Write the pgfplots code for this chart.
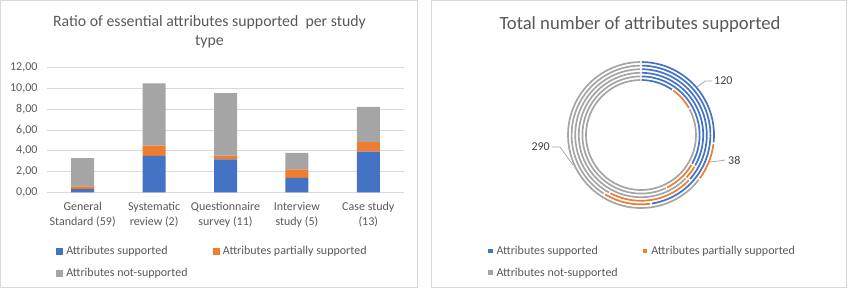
\documentclass[border=0pt]{standalone}
\usepackage{pgfplots}
\pgfplotsset{compat=1.18}
\usepackage{pgfplotstable}
\usepackage{fontspec}
\setmainfont{Carlito}
\definecolor{cBlue}{HTML}{4472C4}
\definecolor{cOrange}{HTML}{ED7D31}
\definecolor{cGray}{HTML}{A5A5A5}
\definecolor{cGrid}{HTML}{D9D9D9}
\definecolor{cText}{HTML}{595959}
\definecolor{cLabel}{HTML}{404040}
\definecolor{cLeader}{HTML}{A6A6A6}
\newcommand\lab{\fontsize{12bp}{14.9bp}\selectfont}
\def\gap{0.7}

% ratio per study type (left chart)
\pgfplotstableread{
x s p n
0 0.32 0.24 2.73
1 3.50 1.00 6.00
2 3.18 0.36 6.00
3 1.40 0.80 1.60
4 3.92 0.92 3.38
}\ratios

% doughnut rings, inner to outer (last ring = totals)
\pgfplotstableread{
ring s p n
0 0.32 0.24 2.73
1 3.50 1.00 6.00
2 3.18 0.36 6.00
3 1.40 0.80 1.60
4 3.92 0.92 3.38
5 120 38 290
}\rings

\begin{document}
\begin{tikzpicture}[x=1bp,y=1bp]
\draw[cGrid, line width=0.75bp] (0.5,2.7) rectangle (417.3,289.5);
\draw[cGrid, line width=0.75bp] (431.7,2.7) rectangle (846.7,289.5);

\foreach \i in {0,...,5}{%
  \pgfplotstablegetelem{\i}{s}\of\rings \pgfmathsetmacro\vs{\pgfplotsretval}%
  \pgfplotstablegetelem{\i}{p}\of\rings \pgfmathsetmacro\vp{\pgfplotsretval}%
  \pgfplotstablegetelem{\i}{n}\of\rings \pgfmathsetmacro\vn{\pgfplotsretval}%
  \pgfmathsetmacro\tot{\vs+\vp+\vn}%
  \pgfmathsetmacro\aa{360*(\vs/\tot)}%
  \pgfmathsetmacro\ab{360*((\vs+\vp)/\tot)}%
  \expandafter\xdef\csname ringA\i\endcsname{\aa}%
  \expandafter\xdef\csname ringB\i\endcsname{\ab}%
}

\node[anchor=base, font=\fontsize{15.8bp}{19bp}\selectfont, text=cText] at (209.5,263.3) {Ratio of essential attributes supported~ per study};
\node[anchor=base, font=\fontsize{15.8bp}{19bp}\selectfont, text=cText] at (209.5,244.3) {type};
\node[anchor=base, font=\fontsize{18.67bp}{22bp}\selectfont, text=cText] at (640,260.7) {Total number of attributes supported};

\begin{axis}[at={(47bp,97.7bp)}, anchor=south west, scale only axis,
  width=357bp, height=124.6bp,
  ybar stacked, bar width=23bp,
  xmin=-0.5, xmax=4.5, ymin=0, ymax=12,
  ytick={0,2,...,12}, xtick=data,
  xticklabels={{General\\Standard (59)},{Systematic\\review (2)},{Questionnaire\\survey (11)},{Interview\\study (5)},{Case study\\(13)}},
  xticklabel style={align=center, yshift=-6.5bp},
  yticklabel style={xshift=-6bp, /pgf/number format/.cd, fixed, fixed zerofill, precision=2, use comma, assume math mode=true},
  tick label style={font=\lab, text=cText},
  ymajorgrids, grid style={draw=cGrid, line width=0.75bp},
  axis line style={draw=none}, major tick length=0pt,
  legend columns=2, legend cell align=left,
  legend style={draw=none, fill=none, inner sep=0pt, outer sep=0pt,
    at={(0.0252,-0.427)}, anchor=north west, font=\lab, text=cText,
    row sep=10bp, column sep=2bp, nodes={inner sep=1bp},
    /tikz/every even column/.append style={column sep=24bp}},
  legend image code/.code={\fill[#1] (0bp,-3.65bp) rectangle (7.3bp,3.65bp);},
]
\addplot[fill=cBlue, draw=none] table[x=x, y=s]{\ratios};
\addplot[fill=cOrange, draw=none] table[x=x, y=p]{\ratios};
\addplot[fill=cGray, draw=none] table[x=x, y=n]{\ratios};
\legend{Attributes supported, Attributes partially supported, Attributes not-supported}
\end{axis}

\begin{axis}[at={(641bp,155bp)}, anchor=center, scale only axis,
  width=200bp, height=160bp, xmin=-100, xmax=100, ymin=-80, ymax=80,
  hide axis, clip=false,
  legend columns=2, legend cell align=left,
  legend style={draw=none, fill=none, inner sep=0pt, outer sep=0pt,
    at={(-0.265,-0.1875)}, anchor=north west, font=\lab, text=cText,
    row sep=10bp, column sep=3bp, nodes={inner sep=1bp},
    /tikz/every even column/.append style={column sep=24bp}},
  legend image code/.code={\fill[#1] (0bp,-2.25bp) rectangle (4.5bp,2.25bp);},
]
\addlegendimage{fill=cBlue, draw=none}
\addlegendentry{Attributes supported}
\addlegendimage{fill=cOrange, draw=none}
\addlegendentry{Attributes partially supported}
\addlegendimage{fill=cGray, draw=none}
\addlegendentry{Attributes not-supported}
\pgfplotsforeachungrouped \i in {0,...,5}{%
  \pgfmathsetmacro\r{55+3.6*\i}%
  \edef\temp{%
    \noexpand\draw[cBlue, line width=1.7bp] (axis cs:0,0) ++({90-\gap}:\r bp) arc[start angle={90-\gap}, end angle={90-\csname ringA\i\endcsname+\gap}, radius=\r bp];
    \noexpand\draw[cOrange, line width=1.7bp] (axis cs:0,0) ++({90-\csname ringA\i\endcsname-\gap}:\r bp) arc[start angle={90-\csname ringA\i\endcsname-\gap}, end angle={90-\csname ringB\i\endcsname+\gap}, radius=\r bp];
    \noexpand\draw[cGray, line width=1.7bp] (axis cs:0,0) ++({90-\csname ringB\i\endcsname-\gap}:\r bp) arc[start angle={90-\csname ringB\i\endcsname-\gap}, end angle={-270+\gap}, radius=\r bp];
  }\temp
}
\draw[cLeader, line width=0.75bp] (axis cs:56,48) -- (axis cs:64,54) -- (axis cs:71,54);
\draw[cLeader, line width=0.75bp] (axis cs:68,-27) -- (axis cs:78,-26) -- (axis cs:84,-25);
\draw[cLeader, line width=0.75bp] (axis cs:-68,-30) -- (axis cs:-81,-12) -- (axis cs:-89,-12);
\node[anchor=west, font=\lab, text=cLabel, inner sep=1bp] at (axis cs:72,54) {120};
\node[anchor=west, font=\lab, text=cLabel, inner sep=1bp] at (axis cs:86,-25) {38};
\node[anchor=east, font=\lab, text=cLabel, inner sep=1bp] at (axis cs:-90,-12) {290};
\end{axis}
\pgfresetboundingbox
\path (0,0) rectangle (849,290);
\end{tikzpicture}
\end{document}
